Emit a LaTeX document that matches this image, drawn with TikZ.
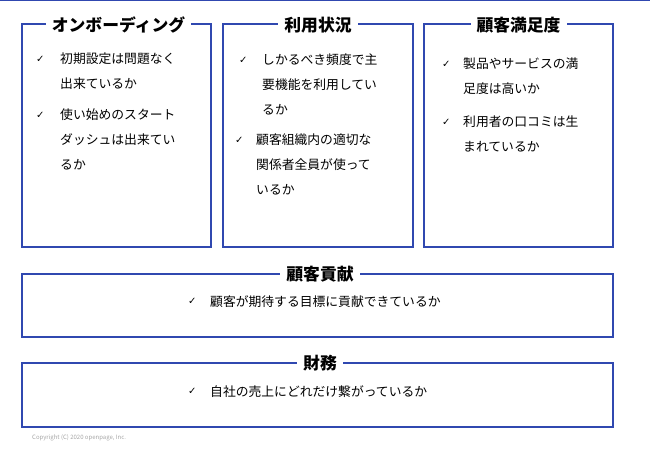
\documentclass[tikz,border=0pt]{standalone}
\usepackage{fontspec}
\setmainfont{Noto Sans CJK JP}
\newfontfamily\dv{DejaVu Sans}
\definecolor{bb}{RGB}{48,72,176}
\begin{document}
\begin{tikzpicture}[x=1pt,y=-1pt,
  frame/.style={draw=bb,line width=2pt},
  ttl/.style={fill=white,inner xsep=6pt,inner ysep=1pt,font=\fontsize{16.8}{17}\selectfont\bfseries},
  item/.style={anchor=north west,align=left,font=\fontsize{12.8}{25}\selectfont,inner sep=0pt},
  chk/.style={anchor=north west,font=\dv\fontsize{10}{10}\selectfont,inner sep=0pt}]
\useasboundingbox (0,0) rectangle (650,450);
\draw[bb,line width=1.5pt] (0,0.5) -- (650,0.5);
\draw[frame] (22,24) rectangle (211,247);
\draw[frame] (223,24) rectangle (413,247);
\draw[frame] (424,24) rectangle (613,247);
\draw[frame] (22,274) rectangle (613,337);
\draw[frame] (22,363) rectangle (613,427);
\node[ttl] (t1) at (118.5,25) {オンボーディング};
\node[ttl] (t2) at (318,25) {利用状況};
\node[ttl] (t3) at (518.5,25) {顧客満足度};
\node[ttl] (t4) at (320,274) {顧客貢献};
\node[ttl] (t5) at (320,363) {財務};
\node[chk] (c1) at (36,56) {✓};
\node[item] (i1) at (60,53) {初期設定は問題なく\\出来ているか};
\node[chk] (c2) at (36,112) {✓};
\node[item] (i2) at (60,109) {使い始めのスタート\\ダッシュは出来てい\\るか};
\node[chk] (c3) at (239,57) {✓};
\node[item] (i3) at (262,54) {しかるべき頻度で主\\要機能を利用してい\\るか};
\node[chk] (c4) at (235,137) {✓};
\node[item] (i4) at (256,134) {顧客組織内の適切な\\関係者全員が使って\\いるか};
\node[chk] (c5) at (442,61) {✓};
\node[item] (i5) at (463,58) {製品やサービスの満\\足度は高いか};
\node[chk] (c6) at (442,119) {✓};
\node[item] (i6) at (463,116) {利用者の口コミは生\\まれているか};
\node[chk] (c7) at (188,298) {✓};
\node[item] (i7) at (210,295) {顧客が期待する目標に貢献できているか};
\node[chk] (c8) at (188,388) {✓};
\node[item] (i8) at (210,385) {自社の売上にどれだけ繋がっているか};
\node[anchor=west,font=\fontsize{6}{6}\selectfont,text=black!35,inner sep=0pt] (cp) at (32,438) {Copyright (C) 2020 openpage, Inc.};
\end{tikzpicture}
\end{document}
